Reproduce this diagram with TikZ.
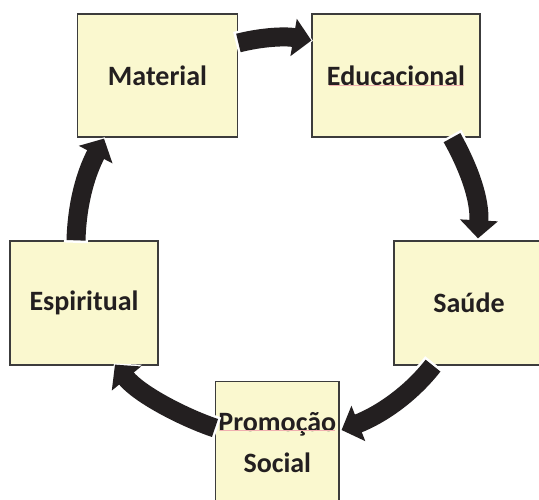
\documentclass[tikz,border=0pt]{standalone}
\usepackage{fontspec}
\setmainfont{Carlito}
\usetikzlibrary{decorations.markings}
\definecolor{boxfill}{RGB}{250,248,207}
\definecolor{boxline}{RGB}{60,60,60}
\definecolor{arrowc}{RGB}{35,31,32}
\definecolor{squig}{RGB}{240,175,175}
\tikzset{
  box/.style={rectangle, draw=boxline, line width=1.3pt, fill=boxfill, inner sep=0pt,
    text=arrowc, align=center, font=\bfseries\fontsize{28}{41}\selectfont},
  flow/.style={line width=19pt, draw=arrowc, shorten >=17pt,
    preaction={draw=white, line width=24pt, shorten >=17pt, shorten <=-2.5pt},
    postaction={decorate, decoration={markings, mark=at position 1 with {
      \fill[white] (1.5pt,0) -- (-17pt,20.5pt) -- (-17pt,-20.5pt) -- cycle;
      \fill[arrowc] (0,0) -- (-18pt,19pt) -- (-18pt,-19pt) -- cycle;}}}},
  squiggle/.style={draw=squig, line width=0.8pt}
}
\begin{document}
\begin{tikzpicture}[x=1pt,y=1pt]
\useasboundingbox (0,0) rectangle (539,500);
\node[box, minimum width=160.5pt, minimum height=123pt] (mat) at (157.5,424.5) {Material};
\node[box, minimum width=168pt, minimum height=123pt] (edu) at (396,424.5) {Educacional};
\node[box, minimum width=150pt, minimum height=124pt] (sau) at (469,197) {Saúde};
\node[box, minimum width=148pt, minimum height=124pt] (esp) at (84,197) {Espiritual};
\node[box, minimum width=123.3pt, minimum height=121.3pt] (pro) at (277.3,57.7) {Promoção\\Social};
\draw[squiggle] (329,415) -- (464,415);
\draw[squiggle] (220,69.3) -- (335,69.3);
% arrows
\draw[flow] ([yshift=32.5pt]mat.east) .. controls (262,463) and (285,464) .. ([yshift=35pt]edu.west);
\draw[flow] ([xshift=56pt]edu.south) .. controls (470,330) and (480,300) .. ([xshift=9pt,yshift=2pt]sau.north);
\draw[flow] ([xshift=-36pt]sau.south) .. controls (410,105) and (380,85) .. ([xshift=2pt,yshift=12.3pt]pro.east);
\draw[flow] ([yshift=14.3pt]pro.west) .. controls (185,82) and (140,105) .. ([xshift=31pt,yshift=1pt]esp.south);
\draw[flow] ([xshift=-8pt]esp.north) .. controls (77,295) and (85,325) .. ([xshift=-53.5pt,yshift=-1pt]mat.south);
\end{tikzpicture}
\end{document}
